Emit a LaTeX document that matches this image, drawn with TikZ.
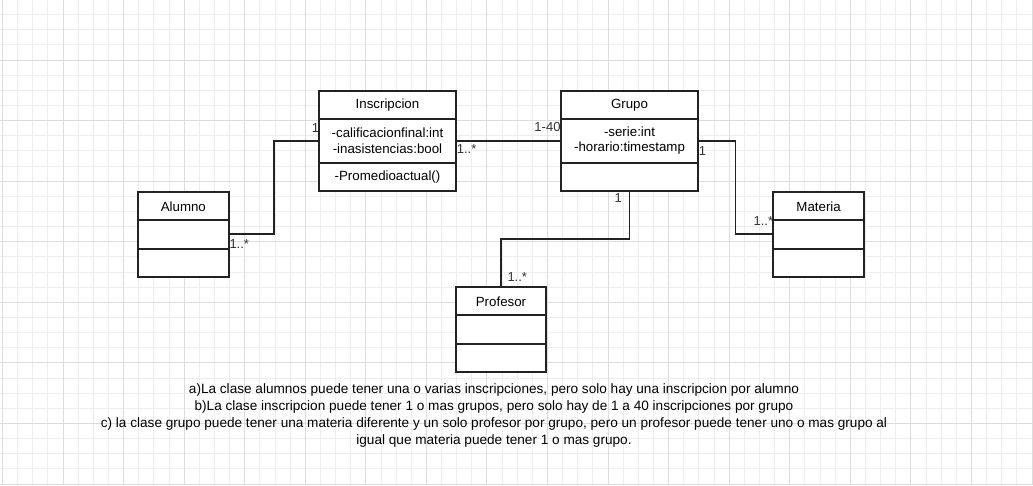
\documentclass[tikz,border=0pt]{standalone}
\usepackage{fontspec}
\setmainfont{Liberation Sans}
\usepackage{xcolor}
\usepackage{tikz}
\usetikzlibrary{calc}
\usetikzlibrary{positioning}
\definecolor{umlline}{HTML}{222222}
\definecolor{multtext}{HTML}{333333}
\definecolor{gridminor}{HTML}{EDEDED}
\definecolor{gridmajor}{HTML}{DCDCDC}

\begin{document}
\begin{tikzpicture}[x=1pt, y=-1pt]

                \def\hd{28}
                \def\gs{15.14}

                % class frames, their texts and the multiplicities
                \tikzset{
                    classbox/.style={draw=umlline, line width=1.7pt, fill=white,
                        minimum width=#1, inner sep=0pt, outer sep=0pt,
                        anchor=north west},
                    classtext/.style={font=\fontsize{13.3}{15.6}\selectfont,
                        align=center, inner sep=0pt},
                    mult/.style={font=\fontsize{13}{15.6}\selectfont,
                        text=multtext, inner sep=0pt}
                }

                \path[use as bounding box, fill=white] (0,0) rectangle (1033,485);

                % Scope used for the grid of the drawing sheet
                \begin{scope}[line width=0.8pt]
                    \clip (0,0) rectangle (1033,485);
                    \foreach \i in {0,...,68}
                        \draw[gridminor] ({2.4+\i*\gs},0) -- ++(0,485);
                    \foreach \j in {0,...,33}
                        \draw[gridminor] (0,{-0.56+\j*\gs}) -- ++(1033,0);
                    \foreach \i in {0,...,17}
                        \draw[gridmajor] ({2.4+4*\i*\gs},0) -- ++(0,485);
                    \foreach \j in {0,...,8}
                        \draw[gridmajor] (0,{-0.56+4*\j*\gs}) -- ++(1033,0);
                \end{scope}

                \begin{scope}
                    \node[classbox=136.4pt, minimum height=100pt] (insc)
                    at (319.3,90.7) {};
                    \node[classbox=136.4pt, minimum height=100pt,
                    right=105.6pt of insc] (grupo) {};
                    \node[classbox=90.7pt, minimum height=84.4pt,
                    below left=1.6pt and 90.6pt of insc] (alumno) {};
                    \node[classbox=91.3pt, minimum height=84.4pt,
                    below right=1.6pt and 75.3pt of grupo] (materia) {};
                    \node[classbox=90.6pt, minimum height=84.7pt,
                    below left=96.6pt and 15pt of grupo] (prof) {};

                    \foreach \c/\a in {insc/72.3, grupo/72.3, alumno/56.4,
                        materia/56.4, prof/56.7} {
                        \draw[umlline, line width=1.7pt]
                        ($(\c.north west)+(0,\hd)$) -- ($(\c.north east)+(0,\hd)$);
                        \draw[umlline, line width=1.7pt]
                        ($(\c.north west)+(0,\a)$) -- ($(\c.north east)+(0,\a)$);
                    }

                    \node[classtext] (insc-name) at ($(insc.north)+(0,14.5)$)
                    {Inscripcion};
                    \node[classtext] (insc-attr) at ($(insc.north)+(0,50)$)
                    {-calificacionfinal:int\\-inasistencias:bool};
                    \node[classtext] (insc-op) at ($(insc.north)+(0,86.5)$)
                    {-Promedioactual()};
                    \node[classtext] (grupo-name) at ($(grupo.north)+(0,14.5)$)
                    {Grupo};
                    \node[classtext] (grupo-attr) at ($(grupo.north)+(0,50)$)
                    {-serie:int\\-horario:timestamp};
                    \node[classtext] (alumno-name) at ($(alumno.north)+(0,14.3)$)
                    {Alumno};
                    \node[classtext] (materia-name) at ($(materia.north)+(0,14.3)$)
                    {Materia};
                    \node[classtext] (prof-name) at ($(prof.north)+(0,14.5)$)
                    {Profesor};
                \end{scope}

                % end points of the associations
                \coordinate (insc-w) at ($(insc.north west)+(0,50.3)$);
                \coordinate (insc-e) at ($(insc.north east)+(0,50.3)$);
                \coordinate (grupo-w) at ($(grupo.north west)+(0,50.3)$);
                \coordinate (grupo-e) at ($(grupo.north east)+(0,50.3)$);
                \coordinate (alumno-e) at ($(alumno.north east)+(0,42)$);
                \coordinate (materia-w) at ($(materia.north west)+(0,42)$);

                \begin{scope}[umlline, line width=1.7pt]
                    \draw (alumno-e) -| ($(alumno-e)!0.5!(insc-w)$) |- (insc-w);
                    \draw (insc-e) -- (grupo-w);
                    \draw (grupo-e) -| ($(grupo-e)!0.5!(materia-w)$) |- (materia-w);
                    \draw (grupo.south) |- ($(grupo.south)!0.5!(prof.north)$)
                    -| (prof.north);
                \end{scope}

                \node[mult, anchor=east] (m1) at ($(insc-w)+(0,-12.7)$) {1};
                \node[mult, anchor=west] (m2) at ($(alumno-e)+(0.6,10)$) {1..*};
                \node[mult, anchor=west] (m3) at ($(insc-e)+(1,8.3)$) {1..*};
                \node[mult, anchor=east] (m4) at ($(grupo-w)+(-0.6,-13.7)$) {1-40};
                \node[mult, anchor=west] (m5) at ($(grupo-e)+(1,9.7)$) {1};
                \node[mult, anchor=east] (m6) at ($(grupo.south)+(-7.5,7.6)$) {1};
                \node[mult, anchor=east] (m7) at ($(materia-w)+(0.3,-13.6)$) {1..*};
                \node[mult, anchor=west] (m8) at ($(prof.north)+(6.3,-10)$) {1..*};

                \node[classtext, font=\fontsize{13.6}{16.7}\selectfont] (notes)
                at (494,415.5)
                {a)La clase alumnos puede tener una o varias inscripciones, pero solo hay una inscripcion por alumno\\
                b)La clase inscripcion puede tener 1 o mas grupos, pero solo hay de 1 a 40 inscripciones por grupo\\
                c) la clase grupo puede tener una materia diferente y un solo profesor por grupo, pero un profesor puede tener uno o mas grupo al\\
                igual que materia puede tener 1 o mas grupo.};

\end{tikzpicture}
\end{document}
